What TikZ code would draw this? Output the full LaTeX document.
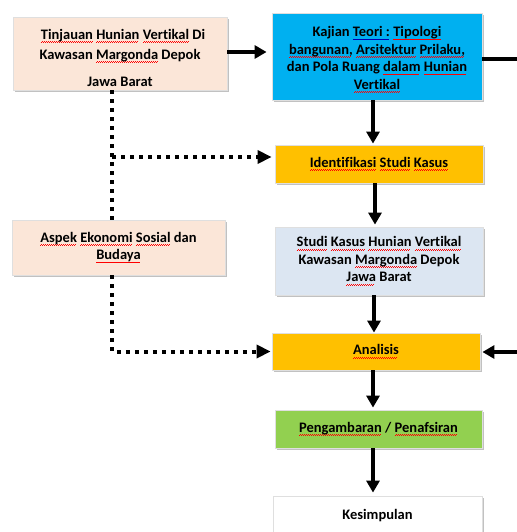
\documentclass[tikz,border=0pt]{standalone}
\usepackage{fontspec}
\setmainfont{Carlito}[Ligatures=NoCommon]
\usetikzlibrary{arrows.meta,shadows}
\definecolor{peach}{HTML}{FBE6D8}
\definecolor{skyb}{HTML}{00B0F0}
\definecolor{amber}{HTML}{FFC000}
\definecolor{paleb}{HTML}{DCE6F2}
\definecolor{leaf}{HTML}{92D050}
\newcommand\wavyline[2]{\setbox0\hbox{#2}\rlap{\color{#1}\leaders\hbox{\rule[-3.4pt]{1pt}{0.7pt}\rule[-2.6pt]{1pt}{0.7pt}}\hskip\wd0\relax}\box0\relax}
\newcommand\sq[1]{\wavyline{red}{#1}}
\newcommand\bq[1]{\wavyline{blue!70!black}{#1}}
\begin{document}
\begin{tikzpicture}[x=1pt,y=-1pt,
  fbox/.style={draw=gray!25,line width=0.8pt,align=center,inner sep=2pt,
    font=\fontsize{14.5}{17.5}\selectfont\bfseries,
    drop shadow={shadow xshift=2pt,shadow yshift=-2pt,fill=gray!60,opacity=0.8}},
  lbl/.style={align=center,inner sep=0pt,font=\fontsize{14.5}{17.5}\selectfont\bfseries},
  flow/.style={line width=4pt,-{Triangle[width=13pt,length=12pt]}},
  dots/.style={line width=4pt,dash pattern=on 4pt off 5pt},
  dotarrow/.style={dots,-{Triangle[width=13pt,length=14pt]}}]
\useasboundingbox (0,0) rectangle (516,532);
\fill[white] (0,0) rectangle (516,532);

\node[fbox,fill=peach,minimum width=214pt,minimum height=73pt] (tin) at (120,53.5) {};
\node[lbl] (tintext) at ([yshift=-4pt]tin.center)
  {\hspace*{6pt}\sq{Tinjauan} \sq{Hunian} \sq{Vertikal} Di\\[2.5pt]Kawasan \sq{Margonda} Depok\hspace*{30pt}\\[9.5pt]Jawa Barat};
\node[fbox,fill=skyb,minimum width=210pt,minimum height=87pt] (kaj) at (377,56.5) {};
\node[lbl] (kajtext) at ([yshift=-3pt]kaj.center)
  {Kajian \bq{Teori :} \sq{Tipologi}\\\sq{bangunan,} \sq{Arsitektur} \sq{Prilaku,}\\dan Pola Ruang \sq{dalam} \sq{Hunian}\\\sq{Vertikal}};
\node[fbox,fill=amber,minimum width=208pt,minimum height=38pt] (idf) at (379,164)
  {\sq{Identifikasi} \sq{Studi} \sq{Kasus}};
\node[fbox,fill=paleb,minimum width=208pt,minimum height=68pt] (stu) at (379,261)
  {\sq{Studi} \sq{Kasus} \sq{Hunian} \sq{Vertikal}\\Kawasan \sq{Margonda} Depok\\\sq{Jawa} Barat};
\node[fbox,fill=peach,minimum width=213pt,minimum height=55pt] (asp) at (118.5,247.5)
  {\sq{Aspek} \sq{Ekonomi} \sq{Sosial} dan\\\sq{Budaya}};
\node[fbox,fill=amber,minimum width=208pt,minimum height=37pt] (ana) at (376,351.5)
  {\sq{Analisis}};
\node[fbox,fill=leaf,minimum width=207pt,minimum height=38pt] (pen) at (378.5,429)
  {\sq{Pengambaran} / \sq{Penafsiran}};
\node[fbox,fill=white,minimum width=209pt,minimum height=40pt] (kes) at (377.5,516)
  {Kesimpulan};

\coordinate (dv) at (112,0);
\coordinate (outR) at (520,59);
\coordinate (inR) at (520,352);

% main flow
\draw[flow,shorten >=5pt] (tin.east |- 0,52) -- (kaj.west |- 0,52);
\draw[line width=4pt] (kaj.east |- outR) -- (outR);
\draw[flow] (inR) -- ([xshift=2pt]ana.east |- inR);
\draw[flow,shorten >=1pt] (kaj.south -| 373,0) -- (idf.north -| 373,0);
\draw[flow,shorten >=2pt] (idf.south -| 375,0) -- (stu.north -| 375,0);
\draw[flow] (stu.south -| 374,0) -- (ana.north -| 374,0);
\draw[flow,shorten >=2pt] (ana.south -| 373,0) -- (pen.north -| 373,0);
\draw[flow,shorten >=3pt] (pen.south -| 373,0) -- (kes.north -| 373,0);

% dotted links
\draw[dots] (tin.south -| dv) -- (asp.north -| dv);
\draw[dotarrow,shorten >=3pt] (dv |- 0,157) -- (idf.west |- 0,157);
\draw[dotarrow,shorten >=1pt] (asp.south -| dv) |- (ana.west);
\end{tikzpicture}
\end{document}
